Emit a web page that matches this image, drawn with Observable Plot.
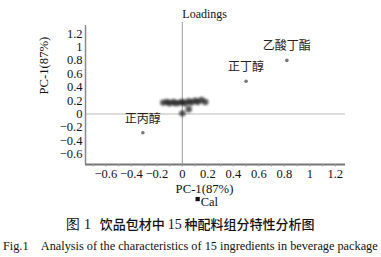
<!DOCTYPE html>
<html><head><meta charset="utf-8">
<script src="https://cdn.jsdelivr.net/npm/d3@7"></script>
<script src="https://cdn.jsdelivr.net/npm/@observablehq/plot@0.6"></script>
<style>
body{margin:0;background:#fff;width:381px;overflow:hidden}
#chart svg{display:block}
.cap1{position:absolute;left:0;top:215px;width:381px;text-align:center;font-family:"Noto Sans CJK SC";font-size:13px;font-weight:500;color:#111;line-height:18px}
.cap1 .n{font-family:"Liberation Serif";font-weight:400;font-size:14px}
.cap2{position:absolute;left:3px;top:237px;font-family:"Liberation Serif";font-size:12.6px;color:#111;line-height:18px;white-space:nowrap}
</style></head>
<body>
<div id="chart"></div>
<div class="cap1"><span class="n">图 1</span>&nbsp;&nbsp;&nbsp;饮品包材中 <span class="n">15</span> 种配料组分特性分析图</div>
<div class="cap2" id="cap2">Fig.1&nbsp;&nbsp;&nbsp;&nbsp;Analysis of the characteristics of 15 ingredients in beverage package</div>
<script>
// labeled loadings
const labeledNames = ["乙酸丁酯", "正丁醇", "正丙醇"];
const labeledX = [0.82, 0.50, -0.31];
const labeledY = [0.80, 0.49, -0.28];
// unlabeled cluster of ingredients
const clusterX = [-0.15, -0.12, -0.10, -0.07, -0.05, -0.02, 0.00, 0.02, 0.05, 0.07, 0.10, 0.12, 0.15, 0.18, 0.00, 0.05];
const clusterY = [0.17, 0.18, 0.16, 0.18, 0.16, 0.17, 0.18, 0.16, 0.19, 0.17, 0.20, 0.18, 0.21, 0.18, 0.01, 0.07];
// calibration point
const calName = ["Cal"];
const calX = [0.12];
const calY = [-1.27];
// ticks
const xTicks = [-0.6, -0.4, -0.2, 0, 0.2, 0.4, 0.6, 0.8, 1, 1.2];
const xMinor = [-0.7,-0.6,-0.5,-0.4,-0.3,-0.2,-0.1,0,0.1,0.2,0.3,0.4,0.5,0.6,0.7,0.8,0.9,1,1.1,1.2];
const yTicks = [-0.6, -0.4, -0.2, 0, 0.2, 0.4, 0.6, 0.8, 1, 1.2];
const xDomain = [-0.76, 1.28];
const yDomain = [-0.754, 1.366];
const axisTitle = "PC-1(87%)";
const plotTitle = "Loadings";

const labeled = labeledNames.map((n, i) => ({name: n, x: labeledX[i], y: labeledY[i]}));
const cluster = clusterX.map((x, i) => ({x, y: clusterY[i]}));
const cal = calName.map((n, i) => ({name: n, x: calX[i], y: calY[i]}));
const fmt = d => d === 0 ? "0" : d3.format("")(d).replace("-", "−");

const serif = "Liberation Serif";
const chart = Plot.plot({
  width: 381,
  height: 210,
  marginLeft: 85,
  marginRight: 36,
  marginTop: 22,
  marginBottom: 46,
  style: {fontFamily: serif, fontSize: "12px", color: "#111", background: "transparent"},
  x: {domain: xDomain},
  y: {domain: yDomain},
  marks: [
    Plot.ruleX([0], {stroke: "#aaa", strokeWidth: 1.2, y1: yDomain[0], y2: yDomain[1]}),
    Plot.ruleY([0], {stroke: "#bbb", strokeWidth: 1.2}),
    Plot.ruleX([xDomain[0]], {stroke: "#888", strokeWidth: 1.5, y1: yDomain[0], y2: 1.32}),
    Plot.ruleY([yDomain[0]], {stroke: "#777", strokeWidth: 1.8}),
    Plot.axisX({ticks: xMinor, tickSize: 2.5, stroke: "#999", text: null, label: null}),
    Plot.axisX({ticks: xTicks, tickSize: 0, tickPadding: 5, tickFormat: fmt, label: null, fontSize: 12.5, fill: "#111"}),
    Plot.axisY({ticks: yTicks, tickSize: 0, tickPadding: 3, tickFormat: fmt, label: null, fontSize: 12.5, fill: "#111"}),
    Plot.dot(cluster, {x: "x", y: "y", r: 3.2, fill: "#222", fillOpacity: 0.75, stroke: "none", imageFilter: "blur(1px)"}),
    Plot.dot(labeled, {x: "x", y: "y", r: 1.8, fill: "#777"}),
    Plot.text(labeled, {x: "x", y: "y", text: "name", dy: -10, lineAnchor: "bottom", fontFamily: "Noto Sans CJK SC", fontSize: 12, fill: "#222"}),
    Plot.dot(cal, {x: "x", y: "y", r: 2.4, symbol: "square", fill: "#111"}),
    Plot.text(cal, {x: "x", y: "y", text: "name", textAnchor: "start", dx: 3, dy: 3, fontSize: 12.5, fill: "#111"}),
    Plot.text([plotTitle], {x: 0, frameAnchor: "top", textAnchor: "start", lineAnchor: "middle", dy: -8, fontSize: 12, fill: "#111"}),
    Plot.text([axisTitle], {frameAnchor: "bottom", lineAnchor: "middle", dx: -11, dy: 24, fontSize: 12.7, fill: "#111"}),
    Plot.text([axisTitle], {frameAnchor: "left", lineAnchor: "middle", rotate: -90, dx: -42, dy: 1, fontSize: 12.7, fill: "#111"})
  ]
});
document.getElementById("chart").appendChild(chart);
// fit the English caption to the reference width
const cap2 = document.getElementById("cap2");
const w = cap2.getBoundingClientRect().width;
cap2.style.fontSize = (12.6 * 375 / w) + "px";
</script>
</body></html>
